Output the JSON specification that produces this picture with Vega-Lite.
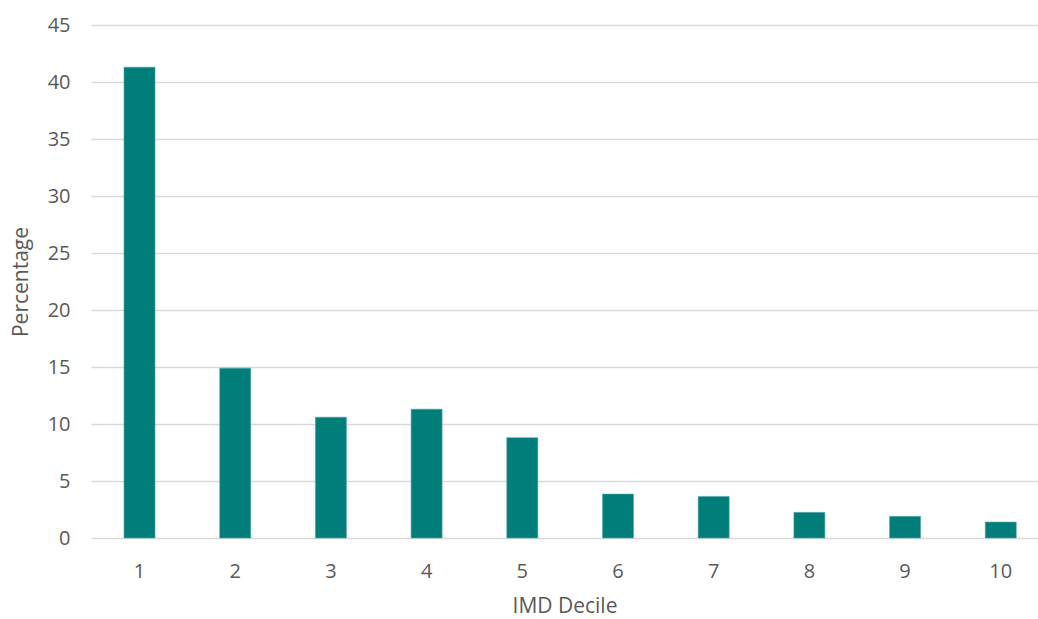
{
  "$schema": "https://vega.github.io/schema/vega-lite/v6.json",
  "autosize": {"type": "none"},
  "padding": {"left": 91, "top": 25, "right": 0, "bottom": 81},
  "width": 947,
  "height": 513,
  "background": "white",
  "data": {"values": [
    {"decile": 1, "pct": 41.3},
    {"decile": 2, "pct": 14.9},
    {"decile": 3, "pct": 10.6},
    {"decile": 4, "pct": 11.3},
    {"decile": 5, "pct": 8.8},
    {"decile": 6, "pct": 3.85},
    {"decile": 7, "pct": 3.65},
    {"decile": 8, "pct": 2.25},
    {"decile": 9, "pct": 1.9},
    {"decile": 10, "pct": 1.4}
  ]},
  "config": {
    "view": {"stroke": null},
    "font": "Open Sans"
  },
  "mark": {"type": "bar", "color": "#017D7A", "stroke": "#4FA8A5", "strokeWidth": 0.6},
  "encoding": {
    "x": {
      "field": "decile", "type": "ordinal", "sort": "ascending",
      "scale": {"paddingInner": 0.676, "paddingOuter": 0.286, "align": 0.603},
      "axis": {
        "title": "IMD Decile", "labelAngle": 0, "ticks": false, "tickSize": 0, "domain": false,
        "labelPadding": 23, "labelFontSize": 20, "labelColor": "#595959", "labelFont": "Open Sans",
        "titleFontSize": 21, "titleColor": "#595959", "titleFontWeight": "normal", "titlePadding": 14
      }
    },
    "y": {
      "field": "pct", "type": "quantitative",
      "scale": {"domain": [0, 45], "nice": false},
      "axis": {
        "title": "Percentage", "values": [0, 5, 10, 15, 20, 25, 30, 35, 40, 45],
        "ticks": false, "tickSize": 0, "domain": false,
        "gridColor": "#D9D9D9", "gridWidth": 1.5,
        "labelPadding": 21, "labelFontSize": 20, "labelColor": "#595959",
        "titleFontSize": 21, "titleColor": "#595959", "titleFontWeight": "normal", "titlePadding": 16
      }
    }
  }
}
